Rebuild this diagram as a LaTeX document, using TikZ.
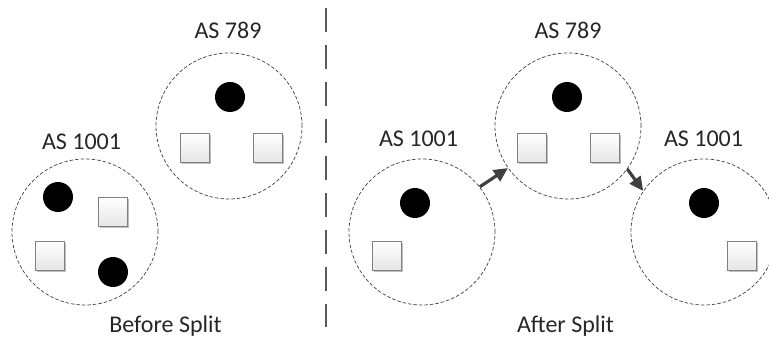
\documentclass[tikz,border=0pt]{standalone}
\usepackage{fontspec}
\setmainfont{Carlito}
\usetikzlibrary{arrows.meta,shadows}
\begin{document}
\begin{tikzpicture}[x=1pt,y=-1pt,
  asgroup/.style={circle,draw=black!75,dash pattern=on 3.5pt off 2pt,line width=0.7pt,minimum size=146pt,inner sep=0pt},
  router/.style={circle,fill=black,minimum size=30pt,inner sep=0pt},
  hostbox/.style={rectangle,draw=black!50,line width=0.7pt,minimum size=29pt,inner sep=0pt,
    top color=white,bottom color=black!10,
    drop shadow={shadow xshift=1.2pt,shadow yshift=-1.2pt,opacity=0.25,fill=black}},
  label/.style={font=\fontsize{24}{28}\selectfont,anchor=base,text=black!85,inner sep=0pt},
  moveto/.style={-{Triangle[length=14pt,width=13pt]},draw=black!75,line width=3.2pt},
  divider/.style={draw=black!65,line width=1.8pt,dash pattern=on 24pt off 13pt}]
\useasboundingbox (0,0) rectangle (769,339);

% before split
\node[asgroup] (bA) at (85,232) {};
\node[asgroup] (bB) at (229,126) {};
\node[label] (bAl) at (81.5,150) {AS 1001};
\node[label] (bBl) at (228,39) {AS 789};
\node[router] (bA1) at (58,197) {};
\node[router] (bA2) at (113,272) {};
\node[hostbox] (bA3) at (113,212) {};
\node[hostbox] (bA4) at (50,256) {};
\node[router] (bB1) at (230,97) {};
\node[hostbox] (bB2) at (195,148) {};
\node[hostbox] (bB3) at (268,148) {};
\node[label] (before) at (165.5,333) {Before Split};

% divider
\coordinate (dtop) at (326,8);
\coordinate (dbot) at (326,327);
\draw[divider] (dtop) -- (dbot);

% after split
\node[asgroup] (aA) at (422,232) {};
\node[asgroup] (aB) at (568,126) {};
\node[asgroup] (aC) at (704,232) {};
\node[label] (aAl) at (418.5,147) {AS 1001};
\node[label] (aBl) at (568,39) {AS 789};
\node[label] (aCl) at (703.5,147) {AS 1001};
\node[router] (aA1) at (415,203) {};
\node[hostbox] (aA2) at (387,256) {};
\node[router] (aB1) at (567,97) {};
\node[hostbox] (aB2) at (532,148) {};
\node[hostbox] (aB3) at (605,148) {};
\node[router] (aC1) at (704,203) {};
\node[hostbox] (aC2) at (742,256) {};
\node[label] (after) at (565.5,333) {After Split};

\draw[moveto] (aA.38) -- (aB.215);
\draw[moveto] (aB.-36) -- (aC.146);
\end{tikzpicture}
\end{document}
